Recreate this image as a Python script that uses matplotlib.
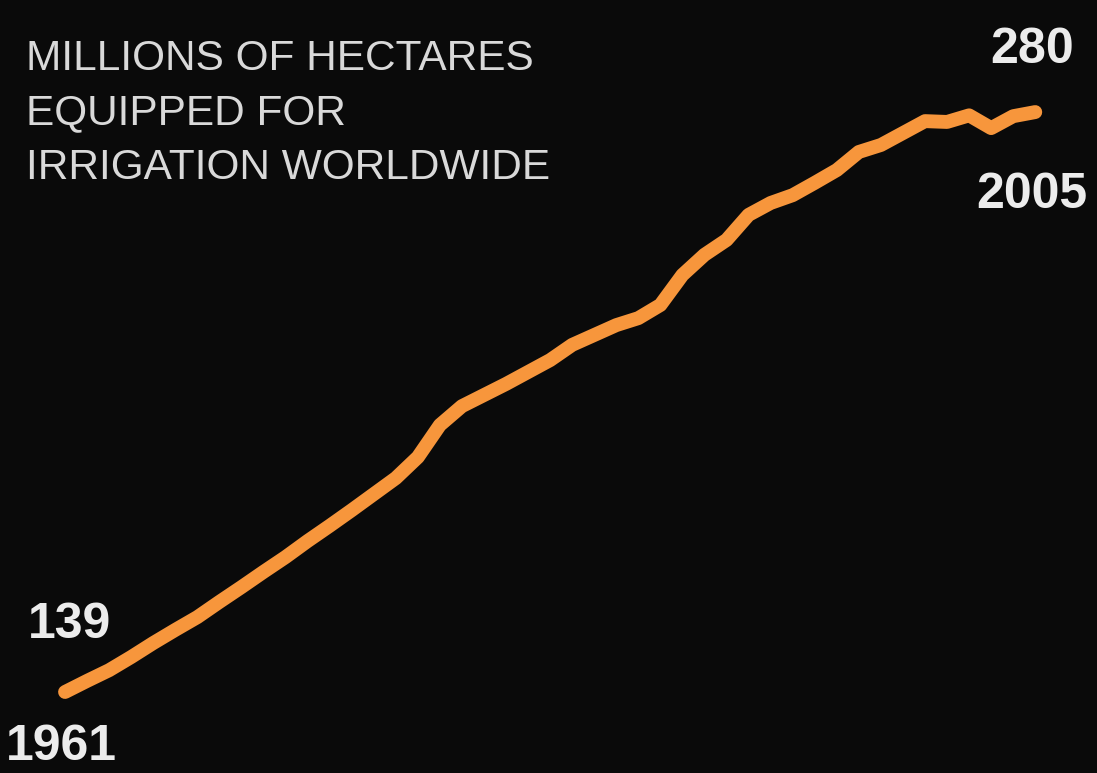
import matplotlib
matplotlib.use("Agg")
import matplotlib.pyplot as plt

# irrigated area, millions of hectares
years = list(range(1961, 2006))
hectares = [139.0, 141.7, 144.3, 147.5, 150.9, 154.1, 157.2, 160.9, 164.5, 168.2,
            171.8, 175.7, 179.4, 183.2, 187.1, 191.0, 196.1, 203.9, 208.5, 211.2,
            213.9, 216.8, 219.7, 223.4, 225.8, 228.2, 229.9, 233.1, 240.4, 245.3,
            248.9, 255.0, 257.9, 259.8, 262.8, 265.9, 270.3, 272.0, 274.9, 277.8,
            277.6, 279.2, 276.1, 279.0, 280.0]

title_lines = ["MILLIONS OF HECTARES", "EQUIPPED FOR", "IRRIGATION WORLDWIDE"]
start_label = ("139", "1961")
end_label = ("280", "2005")

W, H = 1097, 773
bg = "#0a0a0a"
orange = "#F7963C"

fig = plt.figure(figsize=(W / 100, H / 100), dpi=100, facecolor=bg)
ax = fig.add_axes([0, 0, 1, 1])
ax.set_facecolor(bg)

ax.plot(years, hectares, color=orange, linewidth=10,
        solid_capstyle="round", solid_joinstyle="round")

ax.set_xlim(1958.05, 2007.80)
ax.set_ylim(119.3, 307.25)
ax.axis("off")

def px(x, y):
    return x / W, 1 - y / H

# title block
for line, base in zip(title_lines, [70, 124, 179]):
    fig.text(*px(26, base), line, color="#d9d9d9", fontsize=30.5,
             family="Liberation Sans", va="baseline", ha="left")

num_style = dict(color="#ececec", fontsize=36, family="Liberation Sans",
                 fontweight="bold", va="baseline", ha="left")
fig.text(*px(990, 63), end_label[0], **num_style)
fig.text(*px(976, 208), end_label[1], **num_style)
fig.text(*px(28, 638), start_label[0], **num_style)
fig.text(*px(6, 760), start_label[1], **num_style)

fig.savefig("out.png", dpi=100, facecolor=bg)
